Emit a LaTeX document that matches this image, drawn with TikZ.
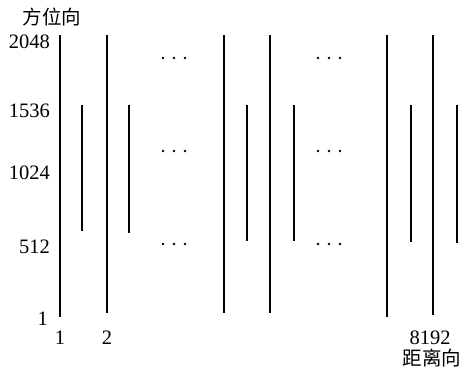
\documentclass[tikz,border=0pt]{standalone}
\usepackage{fontspec}
\setmainfont{Liberation Serif}
\newfontfamily\cjkfont{Noto Sans CJK SC}
\begin{document}
\begin{tikzpicture}[x=1pt,y=-1pt,
  longline/.style={line width=1.7pt},
  shortline/.style={line width=1.2pt},
  tick/.style={font=\fontsize{20.5}{22}\selectfont, inner sep=0pt},
  axislabel/.style={font=\cjkfont\fontsize{19.5}{21}\selectfont, inner sep=0pt},
  dotmark/.style={fill=black}]
\useasboundingbox (0,0) rectangle (467,376);

% full-height range lines and half-height lines, in pairs
\foreach \x/\b in {60/317,107/313,224/313,270/313,387/317,433/315}
  \draw[longline] (\x,35) -- (\x,\b);
\foreach \x/\b in {82/231,129/233,247/241,294/241,411/242,457/243}
  \draw[shortline] (\x,105) -- (\x,\b);

% ellipsis marks between the groups
\foreach \cx in {174,329}
  \foreach \y in {58,151,244}
    \foreach \dx in {-11,0,11}
      \fill[dotmark] (\cx+\dx,\y) circle (1.3);

% azimuth axis
\node[axislabel] (az) at (52,17) {方位向};
\node[tick, anchor=east] (t2048) at (50,41.5) {2048};
\node[tick, anchor=east] (t1536) at (50,111) {1536};
\node[tick, anchor=east] (t1024) at (50,172.5) {1024};
\node[tick, anchor=east] (t512)  at (50,247) {512};
\node[tick, anchor=east] (t1)    at (48,319) {1};

% range axis
\node[tick] (r1) at (60,338) {1};
\node[tick] (r2) at (107,338) {2};
\node[tick] (r8192) at (430,338) {8192};
\node[axislabel] (rg) at (432,358) {距离向};
\end{tikzpicture}
\end{document}
